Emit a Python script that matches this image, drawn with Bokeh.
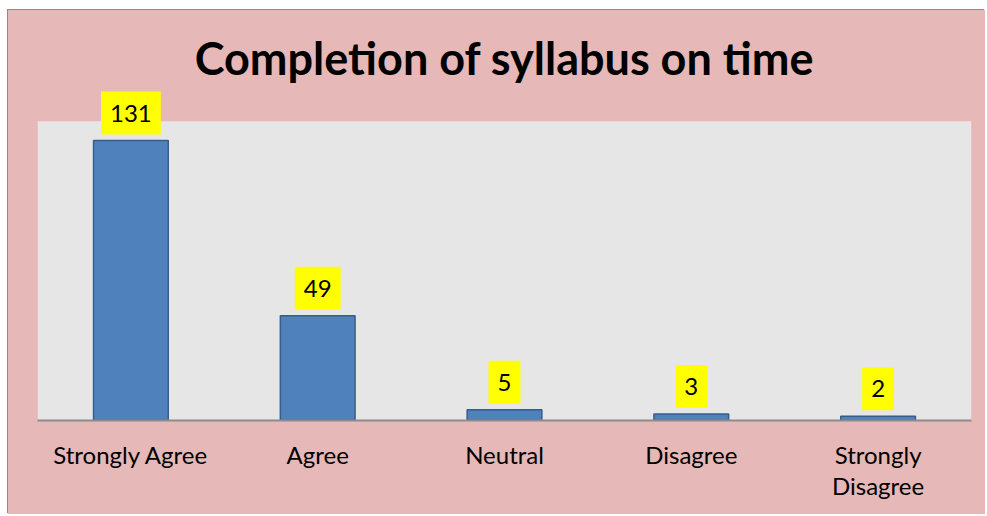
from bokeh.plotting import figure
from bokeh.models import ColumnDataSource, Range1d, FactorRange, BoxAnnotation
from bokeh.core.properties import value
from bokeh.embed import file_html
from bokeh.resources import INLINE

categories = ["Strongly Agree", "Agree", "Neutral", "Disagree", "Strongly\nDisagree"]
counts = [131, 49, 5, 3, 2]
axis_max = 140
title_text = "Completion of syllabus on time"

src = ColumnDataSource(dict(cat=categories, val=counts, lab=[str(v) for v in counts]))

px_per_unit = 280 / 131
frame_h = 332
p = figure(width=977, height=504, x_range=FactorRange(*categories, range_padding=0),
           y_range=Range1d(0, frame_h / px_per_unit), output_backend="svg",
           toolbar_location=None, title=title_text, min_border_left=29,
           min_border_right=14, min_border_top=78, min_border_bottom=94)
p.margin = (10, 0, 0, 8)
p.styles = {"background-color": "#E6B8B7", "box-shadow": "-1px -1px 0 #8C8C8C"}
p.background_fill_color = "#E6B8B7"
p.border_fill_color = "#E6B8B7"
p.outline_line_color = None
p.title.align = "center"
p.title.text_font = "Lato"
p.title.text_font_style = "bold"
p.title.text_font_size = "45px"
p.title.text_color = "#000000"
p.title.standoff = 7

p.add_layout(BoxAnnotation(bottom=0, top=axis_max, fill_color="#E6E6E6",
                           fill_alpha=1, line_color=None, level="underlay"))

p.vbar(x="cat", top="val", width=0.4, source=src, fill_color="#4F81BD",
       line_color="#385D8A", line_width=1.5)

p.text(x="cat", y="val", text="lab", source=src, text_align="center",
       text_baseline="bottom", y_offset=-6, text_font=value("Lato"),
       text_font_size="24px", text_color="#000000",
       background_fill_color="#FFFF00", padding=(9, 13))

p.yaxis.visible = False
p.xgrid.grid_line_color = None
p.ygrid.grid_line_color = None
ax = p.xaxis[0]
ax.axis_line_color = "#8C8C8C"
ax.axis_line_width = 2
ax.major_tick_line_color = None
ax.minor_tick_line_color = None
ax.major_label_standoff = 13
ax.major_label_text_font = "Lato"
ax.major_label_text_font_size = "24px"
ax.major_label_text_line_height = 1.1
ax.major_label_text_color = "#000000"

open("out.html", "w").write(file_html(p, INLINE))
